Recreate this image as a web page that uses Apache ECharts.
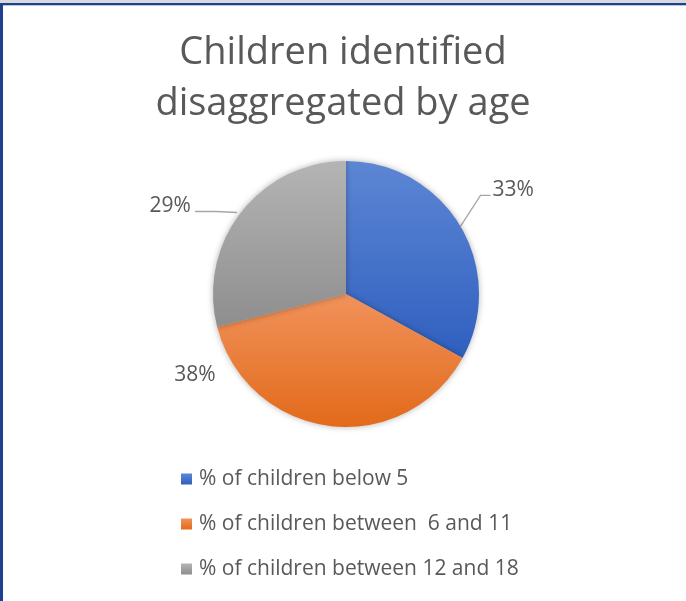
<!DOCTYPE html>
<html>
<head>
<meta charset="utf-8">
<script src="https://cdn.jsdelivr.net/npm/echarts@6/dist/echarts.min.js"></script>
<style>
html,body{margin:0;padding:0;background:#fff;}
#chart{width:686px;height:601px;}
</style>
</head>
<body>
<div id="chart"></div>
<script>
var titleLines = ['Children identified', 'disaggregated by age'];
var categories = ['% of children below 5', '% of children between  6 and 11', '% of children between 12 and 18'];
var values = [33, 38, 29];
var labelTexts = ['33%', '38%', '29%'];

var gradients = [
  ['#5d86d4', '#2f5fbf'],
  ['#f1925c', '#e26a1a'],
  ['#b4b4b4', '#8e8e8e']
];
function grad(c){
  return new echarts.graphic.LinearGradient(0,0,0,1,[{offset:0,color:c[0]},{offset:1,color:c[1]}]);
}

var chart = echarts.init(document.getElementById('chart'), null, {renderer:'canvas'});
var FONT = '"Open Sans", sans-serif';

var data = values.map(function(v,i){
  var d = {name: categories[i], value: v, itemStyle:{color: grad(gradients[i])}};
  if (i === 1) d.labelLine = {show:false};
  return d;
});

var titleStyle = {fontFamily:FONT, fontSize:38, fontWeight:'normal', color:'#595959', lineHeight:38};

chart.setOption({
  backgroundColor:'#ffffff',
  animation:false,
  title:[
    {text: titleLines[0], left:'center', top:34, padding:0, textStyle:titleStyle},
    {text: titleLines[1], left:'center', top:85, padding:0, textStyle:titleStyle}
  ],
  legend:{
    orient:'vertical', left:176, top:463,
    icon:'rect', itemWidth:11, itemHeight:11, itemGap:23,
    textStyle:{fontFamily:FONT, fontSize:21, color:'#595959', lineHeight:22, padding:[0,0,0,2]},
    data: categories
  },
  graphic:[
    {type:'rect', shape:{x:0,y:0,width:686,height:3}, style:{fill:'#d9d9d9'}},
    {type:'rect', shape:{x:0,y:3,width:686,height:2}, style:{fill:'#1f3f8f'}},
    {type:'rect', shape:{x:0,y:5,width:686,height:1}, style:{fill:'#b4c7e7'}},
    {type:'rect', shape:{x:0,y:3,width:3,height:598}, style:{fill:'#1f3f8f'}}
  ],
  series:[{
    type:'pie',
    center:[346,294],
    radius:[0,133],
    startAngle:90,
    clockwise:true,
    data:data,
    itemStyle:{borderWidth:0, shadowBlur:6, shadowColor:'rgba(0,0,0,0.3)'},
    emphasis:{disabled:true},
    label:{
      show:true, position:'outside',
      formatter:function(p){return labelTexts[p.dataIndex];},
      fontFamily:FONT, fontSize:21, color:'#595959'
    },
    labelLine:{show:true, length:15, length2:20, lineStyle:{color:'#a6a6a6', width:1.3}},
    labelLayout:function(p){
      var s = (p.labelLinePoints && p.labelLinePoints[0]) ? p.labelLinePoints[0] : null;
      if (p.dataIndex === 0 && s) {
        return {x: s[0]+32, y: s[1]-36, align:'left', verticalAlign:'middle',
          labelLinePoints:[[s[0],s[1]],[s[0]+20,s[1]-31],[s[0]+30,s[1]-31]]};
      }
      if (p.dataIndex === 2 && s) {
        return {x: s[0]-50, y: s[1]-6, align:'right', verticalAlign:'middle',
          labelLinePoints:[[s[0]-4,s[1]],[s[0]-25,s[1]-1],[s[0]-46,s[1]-1]]};
      }
      if (p.dataIndex === 1) {
        return {x: 195, y: 375, align:'center', verticalAlign:'middle'};
      }
      return {};
    }
  }]
});
</script>
</body>
</html>
